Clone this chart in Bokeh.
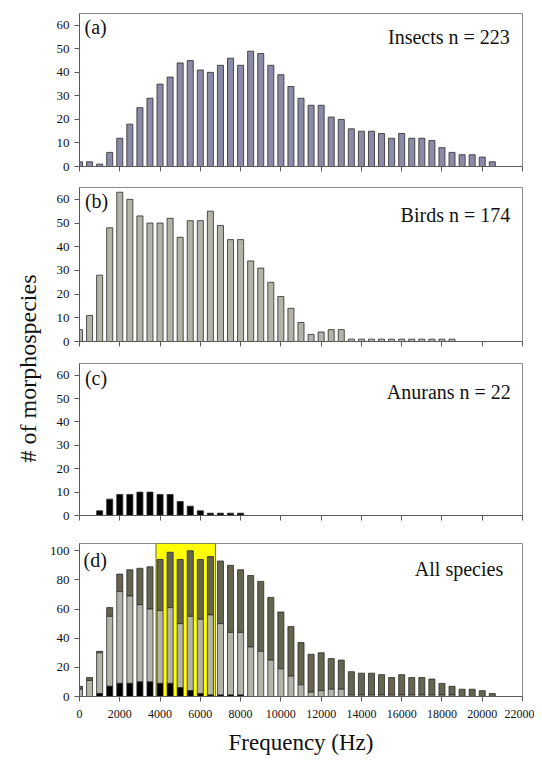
import numpy as np
from bokeh.plotting import figure
from bokeh.layouts import row, column
from bokeh.models import Range1d, SingleIntervalTicker, Label, CustomJSTickFormatter
from bokeh.embed import file_html
from bokeh.resources import INLINE

# ---- data (500 Hz bins, centre frequency in Hz) ----
freq = [i * 500 for i in range(42)]
insects = [2, 2, 1, 6, 12, 18, 25, 29, 35, 38, 44, 45, 41, 40, 43, 46, 43, 49, 48, 43,
           39, 34, 29, 26, 26, 21, 20, 16, 15, 15, 14, 12, 14, 12, 12, 11, 8, 6, 5, 5, 4, 2]
birds = [5, 11, 28, 48, 63, 60, 53, 50, 50, 52, 44, 51, 51, 55, 49, 43, 43, 34, 31, 25,
         19, 14, 8, 3, 4, 5, 5, 1, 1, 1, 1, 1, 1, 1, 1, 1, 1, 1, 0, 0, 0, 0]
anurans = [0, 0, 2, 7, 9, 9, 10, 10, 9, 9, 6, 4, 2, 1, 1, 1, 1, 0, 0, 0,
           0, 0, 0, 0, 0, 0, 0, 0, 0, 0, 0, 0, 0, 0, 0, 0, 0, 0, 0, 0, 0, 0]
panel_tags = ["(a)", "(b)", "(c)", "(d)"]
panel_titles = ["Insects n = 223", "Birds n = 174", "Anurans n = 22", "All species"]
highlight = (3800, 6750)

FONT = "Liberation Serif"
BAR_W = 300
EDGE = "#2b2b2b"
STRIP_W = 44


def style(p, ymax, yint, show_x_labels=False):
    p.x_range = Range1d(0, 22000)
    p.y_range = Range1d(0, ymax)
    p.xgrid.visible = False
    p.ygrid.visible = False
    p.outline_line_color = "#8a8a8a"
    p.outline_line_width = 1
    p.xaxis.ticker = SingleIntervalTicker(interval=2000)
    p.yaxis.ticker = SingleIntervalTicker(interval=yint)
    for ax in (p.xaxis, p.yaxis):
        ax.axis_line_color = "#5a5a5a"
        ax.major_tick_line_color = "#5a5a5a"
        ax.major_tick_in = 0
        ax.major_tick_out = 5
        ax.minor_tick_line_color = None
        ax.major_label_text_font = FONT
        ax.major_label_text_color = "#111111"
    p.yaxis.major_label_text_font_size = "13px"
    p.yaxis.major_label_standoff = 5
    if show_x_labels:
        p.xaxis.major_label_text_font_size = "12px"
        p.xaxis.major_label_standoff = 8
        p.xaxis.axis_label = "Frequency (Hz)"
        p.xaxis.axis_label_text_font = FONT
        p.xaxis.axis_label_text_font_size = "23px"
        p.xaxis.axis_label_text_font_style = "normal"
        p.xaxis.axis_label_text_color = "#111111"
        p.xaxis.axis_label_standoff = 9
    else:
        p.xaxis.formatter = CustomJSTickFormatter(code="return ''")
        p.xaxis.major_label_text_font_size = "1px"
        p.xaxis.major_label_standoff = 0


def add_texts(p, tag, title, tag_x, tag_y, title_x, title_y):
    p.add_layout(Label(x=tag_x, y=tag_y, text=tag, text_font=FONT, text_font_size="20px",
                       text_align="left", text_baseline="middle", text_color="#111111"))
    p.add_layout(Label(x=title_x, y=title_y, text=title, text_font=FONT, text_font_size="20px",
                       text_align="right", text_baseline="middle", text_color="#111111"))


def make_panel(h, top_b, bot_b, left_b=78 - STRIP_W, right_b=12):
    return figure(width=490, height=h, output_backend="svg", toolbar_location=None,
                  min_border_left=left_b, min_border_right=right_b,
                  min_border_top=top_b, min_border_bottom=bot_b)


# (a) insects
pa = make_panel(176, 13, 10)
style(pa, 65, 10)
pa.vbar(x=freq, top=insects, width=BAR_W, fill_color="#8B8BA7", line_color=EDGE, line_width=0.8)
add_texts(pa, panel_tags[0], panel_titles[0], 250, 59.1, 21370, 55.1)

# (b) birds
pb = make_panel(175, 11, 10)
style(pb, 65, 10)
pb.vbar(x=freq, top=birds, width=BAR_W, fill_color="#B3B3A8", line_color=EDGE, line_width=0.8)
add_texts(pb, panel_tags[1], panel_titles[1], 270, 59.1, 21390, 53.6)

# (c) anurans
pc = make_panel(174, 12, 10)
style(pc, 65, 10)
an_x = [f for f, v in zip(freq, anurans) if v > 0]
an_v = [v for v in anurans if v > 0]
pc.vbar(x=an_x, top=an_v, width=BAR_W, fill_color="#000000", line_color=EDGE, line_width=0.8)
add_texts(pc, panel_tags[2], panel_titles[2], 270, 59.0, 21420, 53.0)

# (d) all species, stacked
pd_ = make_panel(234, 18, 63, left_b=79 - STRIP_W, right_b=10)
style(pd_, 105, 20, show_x_labels=True)
pd_.quad(left=[highlight[0]], right=[highlight[1]], bottom=[0], top=[105],
         fill_color="#FFFF00", line_color="#6a6a40", line_width=1)
an = np.array(anurans)
bi = np.array(birds)
ins = np.array(insects)
pd_.vbar(x=freq, bottom=an + bi, top=an + bi + ins, width=BAR_W, fill_color="#65654F",
         line_color=EDGE, line_width=0.8)
pd_.vbar(x=freq, bottom=an, top=an + bi, width=BAR_W, fill_color="#B3B3A8",
         line_color=EDGE, line_width=0.8)
pd_.vbar(x=an_x, bottom=0, top=an_v, width=BAR_W, fill_color="#000000",
         line_color=EDGE, line_width=0.8)
add_texts(pd_, panel_tags[3], panel_titles[3], 200, 94, 21040, 87.4)

# left strip with shared y-axis title
total_h = 176 + 175 + 174 + 234
pl = figure(width=STRIP_W, height=total_h, output_backend="svg", toolbar_location=None,
            x_axis_type=None, y_axis_type=None, min_border=0,
            x_range=Range1d(0, 1), y_range=Range1d(0, 1))
pl.outline_line_color = None
pl.xgrid.visible = False
pl.ygrid.visible = False
pl.add_layout(Label(x=27 / STRIP_W, y=1 - 368 / total_h, text="# of morphospecies",
                    angle=np.pi / 2, text_font=FONT, text_font_size="24px",
                    text_align="center", text_baseline="middle", text_color="#111111"))

layout = row(pl, column(pa, pb, pc, pd_))
open("out.html", "w").write(file_html(layout, INLINE))
